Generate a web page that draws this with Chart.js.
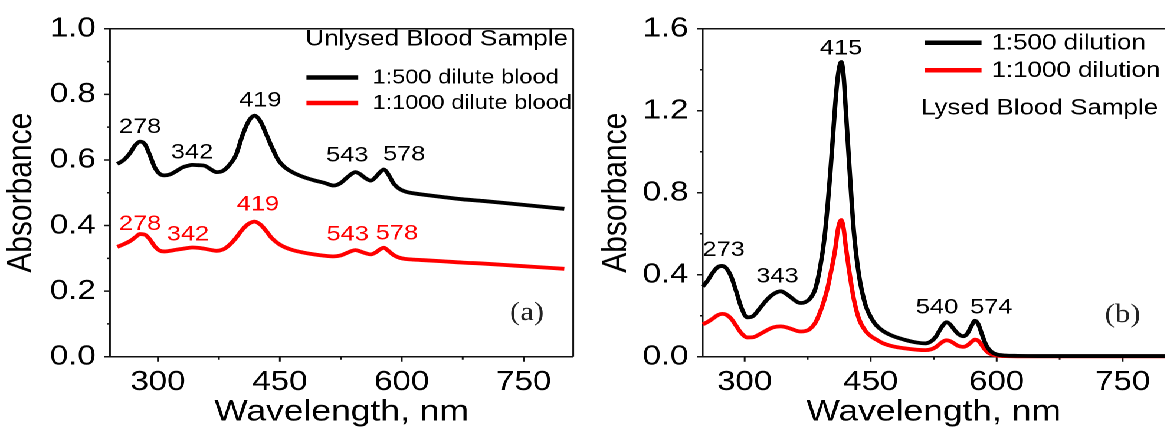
<!DOCTYPE html>
<html>
<head>
<meta charset="utf-8">
<script src="https://cdn.jsdelivr.net/npm/chart.js@4.4.0/dist/chart.umd.min.js"></script>
<style>
  html, body { margin: 0; padding: 0; background: #fff; overflow: hidden; }
  /* both panels are drawn narrow and widened together, like the printed figure */
  #panels {
    position: absolute; left: 0; top: 0;
    width: 987px; height: 427px;
    display: flex;
    transform: scaleX(1.18);
    transform-origin: 0 0;
  }
  canvas { display: block; }
</style>
</head>
<body>
<div id="panels">
  <canvas id="unlysedChart" width="500" height="427"></canvas>
  <canvas id="lysedChart" width="487" height="427"></canvas>
</div>
<script>
// (a) unlysed blood, UV-vis spectra
const unlysedWavelength = [250, 258, 266, 272, 278, 284, 290, 296, 302, 308,
  315, 322, 330, 338, 342, 350, 358, 364, 372, 380,
  388, 396, 404, 412, 419, 426, 433, 440, 448, 456,
  466, 478, 492, 505, 516, 525, 532, 538, 543, 548,
  555, 562, 568, 573, 578, 583, 590, 597, 605, 615,
  630, 650, 675, 700, 725, 750, 775, 800];
const unlysed500 = [0.588, 0.600, 0.622, 0.645, 0.656, 0.648, 0.615, 0.578, 0.558, 0.553,
  0.556, 0.565, 0.577, 0.583, 0.585, 0.584, 0.582, 0.573, 0.563, 0.567,
  0.585, 0.615, 0.675, 0.720, 0.735, 0.718, 0.680, 0.640, 0.600, 0.578,
  0.562, 0.549, 0.538, 0.530, 0.522, 0.530, 0.545, 0.557, 0.563, 0.558,
  0.545, 0.537, 0.548, 0.562, 0.571, 0.558, 0.528, 0.512, 0.503, 0.498,
  0.493, 0.487, 0.480, 0.475, 0.469, 0.463, 0.457, 0.451];
const unlysed1000 = [0.335, 0.343, 0.353, 0.364, 0.374, 0.372, 0.358, 0.337, 0.324, 0.321,
  0.323, 0.326, 0.329, 0.332, 0.333, 0.332, 0.329, 0.326, 0.323, 0.327,
  0.341, 0.362, 0.388, 0.406, 0.412, 0.403, 0.384, 0.362, 0.345, 0.334,
  0.325, 0.318, 0.312, 0.308, 0.306, 0.309, 0.316, 0.322, 0.325, 0.322,
  0.316, 0.312, 0.318, 0.327, 0.332, 0.324, 0.310, 0.302, 0.298, 0.296,
  0.294, 0.291, 0.287, 0.284, 0.280, 0.276, 0.272, 0.268];
const unlysedPeaks = ['278', '342', '419', '543', '578'];

// (b) lysed blood
const lysedWavelength = [250, 256, 262, 268, 273, 278, 284, 290, 296, 303,
  310, 318, 326, 334, 343, 350, 358, 363, 367, 372,
  377, 384, 390, 395, 399, 402, 405, 408, 411, 415,
  418, 420, 422, 424, 427, 430, 436, 444, 452, 457,
  465, 477, 490, 505, 515, 522, 528, 533, 537, 540,
  544, 549, 554, 560, 565, 570, 574, 578, 582, 586,
  590, 595, 600, 610, 625, 650, 700, 750, 800];
const lysed500 = [0.342, 0.372, 0.410, 0.437, 0.443, 0.432, 0.390, 0.318, 0.240, 0.192,
  0.198, 0.236, 0.276, 0.305, 0.319, 0.305, 0.280, 0.266, 0.262, 0.266,
  0.280, 0.330, 0.440, 0.580, 0.750, 0.900, 1.070, 1.240, 1.370, 1.438,
  1.360, 1.230, 1.100, 0.970, 0.780, 0.610, 0.400, 0.250, 0.180, 0.152,
  0.125, 0.100, 0.083, 0.069, 0.065, 0.075, 0.100, 0.135, 0.158, 0.168,
  0.160, 0.135, 0.112, 0.100, 0.112, 0.150, 0.175, 0.160, 0.115, 0.070,
  0.040, 0.020, 0.011, 0.006, 0.004, 0.003, 0.003, 0.003, 0.003];
const lysed1000 = [0.158, 0.170, 0.186, 0.203, 0.209, 0.205, 0.185, 0.150, 0.115, 0.094,
  0.095, 0.110, 0.128, 0.143, 0.148, 0.143, 0.132, 0.125, 0.123, 0.125,
  0.133, 0.165, 0.220, 0.280, 0.341, 0.400, 0.460, 0.530, 0.620, 0.667,
  0.620, 0.550, 0.490, 0.430, 0.350, 0.280, 0.185, 0.125, 0.095, 0.083,
  0.065, 0.050, 0.041, 0.034, 0.032, 0.036, 0.048, 0.065, 0.076, 0.080,
  0.077, 0.066, 0.053, 0.048, 0.055, 0.072, 0.083, 0.078, 0.058, 0.035,
  0.020, 0.010, 0.005, 0.003, 0.002, 0.002, 0.002, 0.002, 0.002];
const lysedPeaks = ['273', '343', '415', '540', '574'];

// axis ticks
const wavelengthTicks = [300, 450, 600, 750];
const wavelengthMinor = [375, 525, 675];
const unlysedTicks = [0, 0.2, 0.4, 0.6, 0.8, 1.0];
const unlysedMinor = [0.1, 0.3, 0.5, 0.7, 0.9];
const lysedTicks = [0, 0.4, 0.8, 1.2, 1.6];
const lysedMinor = [0.2, 0.6, 1.0, 1.4];

const FONT = '"Liberation Sans", Arial, sans-serif';
Chart.defaults.font.family = FONT;
Chart.defaults.color = '#000';

function points(xs, ys) {
  return xs.map((w, i) => ({ x: w, y: ys[i] }));
}

// frame, outside tick marks, peak labels, legend and panel tag
const panelDecor = {
  id: 'panelDecor',
  beforeDatasetsDraw(chart, args, opts) {
    const { ctx, chartArea: a, scales: { x, y } } = chart;
    ctx.save();
    ctx.strokeStyle = '#111';
    ctx.lineWidth = 1.5;
    ctx.beginPath();
    ctx.moveTo(a.left, a.top);
    ctx.lineTo(a.left, a.bottom);
    ctx.lineTo(a.right, a.bottom);
    ctx.moveTo(a.left, a.top);
    ctx.lineTo(a.right, a.top);
    if (opts.rightEdge) {
      ctx.moveTo(a.right, a.top);
      ctx.lineTo(a.right, a.bottom);
    }
    opts.xMajor.forEach(v => {
      const px = x.getPixelForValue(v);
      ctx.moveTo(px, a.bottom); ctx.lineTo(px, a.bottom + 5);
    });
    opts.xMinor.forEach(v => {
      const px = x.getPixelForValue(v);
      ctx.moveTo(px, a.bottom); ctx.lineTo(px, a.bottom + 3);
    });
    opts.yMajor.forEach(v => {
      const py = y.getPixelForValue(v);
      ctx.moveTo(a.left - 5, py); ctx.lineTo(a.left, py);
    });
    opts.yMinor.forEach(v => {
      const py = y.getPixelForValue(v);
      ctx.moveTo(a.left - 2.5, py); ctx.lineTo(a.left, py);
    });
    ctx.stroke();
    ctx.restore();
  },
  afterDatasetsDraw(chart, args, opts) {
    const { ctx, scales: { x, y } } = chart;
    ctx.save();
    ctx.textBaseline = 'middle';

    // peak wavelengths above each curve
    ctx.textAlign = 'center';
    ctx.font = '21.5px ' + FONT;
    opts.peaks.forEach(group => {
      ctx.fillStyle = group.color;
      group.text.forEach((t, i) => {
        const [nm, abs] = group.at[i];
        ctx.fillText(t, x.getPixelForValue(nm), y.getPixelForValue(abs));
      });
    });

    // legend rows
    const lg = opts.legend;
    ctx.textAlign = 'left';
    ctx.font = lg.size + 'px ' + FONT;
    ctx.lineCap = 'butt';
    chart.data.datasets.forEach((ds, i) => {
      const ly = lg.rows[i];
      ctx.strokeStyle = ds.borderColor;
      ctx.lineWidth = 4.5;
      ctx.beginPath();
      ctx.moveTo(lg.lineFrom, ly);
      ctx.lineTo(lg.lineTo, ly);
      ctx.stroke();
      ctx.fillStyle = '#000';
      ctx.fillText(ds.label, lg.textX, ly + 0.5);
    });

    // sample caption
    ctx.font = '22px ' + FONT;
    ctx.fillStyle = '#000';
    ctx.fillText(opts.caption.text, opts.caption.x, opts.caption.y);

    // (a) / (b)
    ctx.textAlign = 'center';
    ctx.font = '26px "Liberation Serif", "Times New Roman", serif';
    ctx.fillStyle = '#222';
    ctx.fillText(opts.tag.text, opts.tag.x, opts.tag.y);
    ctx.restore();
  }
};

function axes(xMin, xMax, yMin, yMax, yTickValues, yWidth, yTitlePad) {
  return {
    x: {
      type: 'linear',
      min: xMin,
      max: xMax,
      afterBuildTicks: s => { s.ticks = wavelengthTicks.map(v => ({ value: v })); },
      afterFit: s => { s.height = 70.3; },
      grid: { display: false, drawTicks: false },
      border: { display: false },
      ticks: { font: { size: 28 }, color: '#000', padding: 9, maxRotation: 0, autoSkip: false,
        callback: v => String(v) },
      title: { display: true, text: 'Wavelength, nm', color: '#000',
        font: { size: 30, lineHeight: 1 }, padding: { top: 0, bottom: 0 } }
    },
    y: {
      type: 'linear',
      min: yMin,
      max: yMax,
      afterBuildTicks: s => { s.ticks = yTickValues.map(v => ({ value: v })); },
      afterFit: s => { s.width = yWidth; },
      grid: { display: false, drawTicks: false },
      border: { display: false },
      ticks: { font: { size: 28 }, color: '#000', padding: 12, autoSkip: false,
        callback: v => v.toFixed(1) },
      title: { display: true, text: 'Absorbance', color: '#000',
        font: { size: 30, lineHeight: 1 }, padding: { top: yTitlePad, bottom: 0 } }
    }
  };
}

const lineStyle = {
  pointRadius: 0,
  borderWidth: 3.8,
  cubicInterpolationMode: 'monotone',
  fill: false,
  clip: false
};

// (a) Unlysed
new Chart(document.getElementById('unlysedChart'), {
  type: 'line',
  data: {
    datasets: [
      { ...lineStyle, label: '1:500 dilute blood', data: points(unlysedWavelength, unlysed500),
        borderColor: '#000000' },
      { ...lineStyle, label: '1:1000 dilute blood', data: points(unlysedWavelength, unlysed1000),
        borderColor: '#ff0000' }
    ]
  },
  options: {
    responsive: false,
    devicePixelRatio: 2,
    animation: false,
    layout: { padding: { top: 26, right: 14.2, left: 0, bottom: 0 } },
    scales: axes(241, 811, 0, 1.0, unlysedTicks, 93.2, 3),
    plugins: {
      legend: { display: false },
      tooltip: { enabled: false },
      panelDecor: {
        rightEdge: true,
        xMajor: wavelengthTicks, xMinor: wavelengthMinor,
        yMajor: unlysedTicks, yMinor: unlysedMinor,
        peaks: [
          { color: '#000', text: unlysedPeaks,
            at: [[278, 0.70], [342, 0.623], [426, 0.781], [533, 0.613], [603, 0.617]] },
          { color: '#ff0000', text: unlysedPeaks,
            at: [[278, 0.405], [337, 0.373], [423, 0.464], [533.5, 0.373], [594, 0.376]] }
        ],
        legend: { size: 20, rows: [77.5, 103], lineFrom: 259.7, lineTo: 303.6, textX: 315.6 },
        caption: { text: 'Unlysed Blood Sample', x: 258.8, y: 39.3 },
        tag: { text: '(a)', x: 446.6, y: 313.3 }
      }
    }
  },
  plugins: [panelDecor]
});

// (b) Lysed
new Chart(document.getElementById('lysedChart'), {
  type: 'line',
  data: {
    datasets: [
      { ...lineStyle, label: '1:500 dilution', data: points(lysedWavelength, lysed500),
        borderColor: '#000000' },
      { ...lineStyle, label: '1:1000 dilution', data: points(lysedWavelength, lysed1000),
        borderColor: '#ff0000' }
    ]
  },
  options: {
    responsive: false,
    devicePixelRatio: 2,
    animation: false,
    layout: { padding: { top: 26.7, right: 0, left: 0, bottom: 0 } },
    scales: axes(250, 800, 0, 1.6, lysedTicks, 95.5, 7),
    plugins: {
      legend: { display: false },
      tooltip: { enabled: false },
      panelDecor: {
        rightEdge: false,
        xMajor: wavelengthTicks, xMinor: wavelengthMinor,
        yMajor: lysedTicks, yMinor: lysedMinor,
        peaks: [
          { color: '#000', text: lysedPeaks,
            at: [[275, 0.521], [339, 0.391], [414.7, 1.503], [529, 0.240], [593.6, 0.240]] }
        ],
        legend: { size: 22, rows: [42.7, 70.3], lineFrom: 283.7, lineTo: 331.8, textX: 340.2 },
        caption: { text: 'Lysed Blood Sample', x: 280.5, y: 108.3 },
        tag: { text: '(b)', x: 451.4, y: 315 }
      }
    }
  },
  plugins: [panelDecor]
});
</script>
</body>
</html>
